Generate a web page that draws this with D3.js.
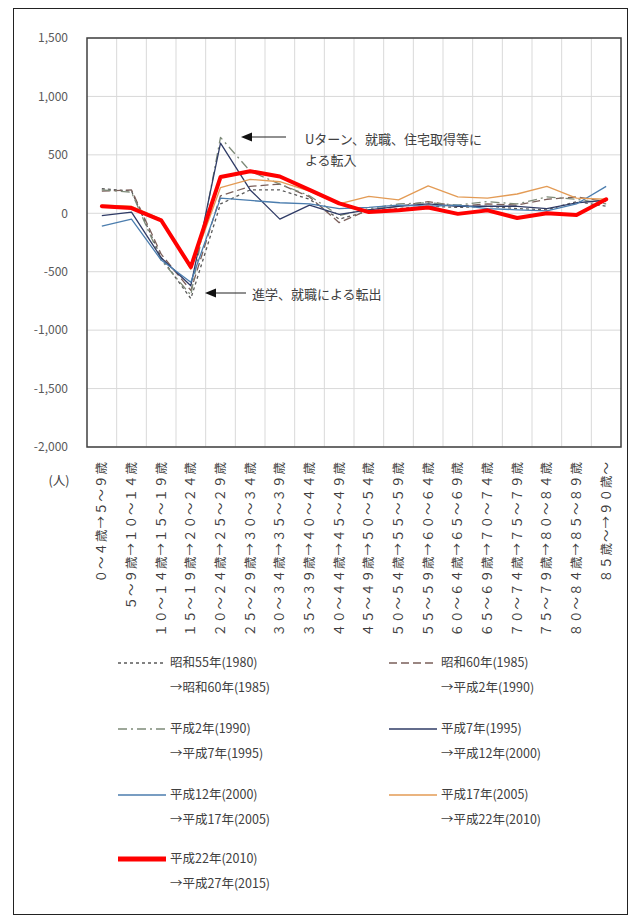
<!DOCTYPE html>
<html><head><meta charset="utf-8">
<script src="https://cdn.jsdelivr.net/npm/d3@7"></script>
<style>
html,body{margin:0;padding:0;background:#fff;}
svg{display:block;font-family:"Noto Sans CJK JP","Noto Sans",sans-serif;}
</style></head>
<body><div id="chart"></div>
<script>
const categories = [
 "０～４歳→５～９歳","５～９歳→１０～１４歳","１０～１４歳→１５～１９歳","１５～１９歳→２０～２４歳",
 "２０～２４歳→２５～２９歳","２５～２９歳→３０～３４歳","３０～３４歳→３５～３９歳","３５～３９歳→４０～４４歳",
 "４０～４４歳→４５～４９歳","４５～４９歳→５０～５４歳","５０～５４歳→５５～５９歳","５５～５９歳→６０～６４歳",
 "６０～６４歳→６５～６９歳","６５～６９歳→７０～７４歳","７０～７４歳→７５～７９歳","７５～７９歳→８０～８４歳",
 "８０～８４歳→８５～８９歳","８５歳～→９０歳～"];
const yTicks = [1500,1000,500,0,-500,-1000,-1500,-2000];
const yTickLabels = ["1,500","1,000","500","0","-500","-1,000","-1,500","-2,000"];
const s1980 = [210,190,-380,-730,80,200,200,120,-50,20,40,60,50,60,40,30,100,60];
const s1985 = [190,200,-350,-660,150,230,250,140,-80,30,60,100,60,80,70,120,140,100];
const s1990 = [200,180,-400,-700,650,360,250,150,-20,40,80,90,70,100,80,140,120,80];
const s1995 = [-20,10,-380,-620,600,200,-50,70,-10,30,60,80,60,60,60,40,90,110];
const s2000 = [-110,-50,-400,-590,130,110,90,80,40,50,70,60,70,40,30,20,80,230];
const s2005 = [70,60,-50,-480,220,290,270,190,80,145,115,235,140,130,165,230,130,120];
const s2010 = [60,45,-60,-460,310,360,315,200,85,10,25,50,-5,25,-40,0,-15,120];
const seriesNames = [
 ["昭和55年(1980)","→昭和60年(1985)"],
 ["昭和60年(1985)","→平成2年(1990)"],
 ["平成2年(1990)","→平成7年(1995)"],
 ["平成7年(1995)","→平成12年(2000)"],
 ["平成12年(2000)","→平成17年(2005)"],
 ["平成17年(2005)","→平成22年(2010)"],
 ["平成22年(2010)","→平成27年(2015)"]];
const seriesValues = [s1980,s1985,s1990,s1995,s2000,s2005,s2010];
const styles = [
 {c:"#5a5a5a",w:1.3,d:"3,3"},
 {c:"#7a5f5a",w:1.3,d:"8,4"},
 {c:"#7d8a78",w:1.3,d:"9,4,2,4"},
 {c:"#2f3b66",w:1.3,d:null},
 {c:"#4b7dae",w:1.3,d:null},
 {c:"#e39b55",w:1.3,d:null},
 {c:"#ff0000",w:4,d:null}];

const W=635,H=920;
const svg=d3.select("#chart").append("svg").attr("width",W).attr("height",H);
svg.append("rect").attr("x",13.5).attr("y",8.5).attr("width",614).attr("height",906)
  .attr("fill","#fff").attr("stroke","#222").attr("stroke-width",1);

const L=87,R=621,T=38,B=447;
const x=d3.scaleBand().domain(categories).range([L,R]);
const y=d3.scaleLinear().domain([-2000,1500]).range([B,T]);
const cx=d=>x(d)+x.bandwidth()/2;

// gridlines
svg.append("g").selectAll("line").data(yTicks).join("line")
 .attr("x1",L).attr("x2",R).attr("y1",d=>y(d)).attr("y2",d=>y(d))
 .attr("stroke","#d9d9d9").attr("stroke-width",1);
svg.append("g").selectAll("line").data(categories.slice(1)).join("line")
 .attr("x1",d=>x(d)).attr("x2",d=>x(d)).attr("y1",T).attr("y2",B)
 .attr("stroke","#d9d9d9").attr("stroke-width",1);

// y axis labels
const yAxis=d3.axisLeft(y).tickValues(yTicks).tickSize(0).tickPadding(19)
 .tickFormat((d,i)=>yTickLabels[i]);
const ga=svg.append("g").attr("transform",`translate(${L},0)`).call(yAxis);
ga.select(".domain").remove();
ga.selectAll("text").attr("fill","#595959").style("font-size","12px").style("font-family","'Noto Sans CJK JP'");

// x axis labels
const xAxis=d3.axisBottom(x).tickSize(0).tickPadding(0);
const gx=svg.append("g").attr("transform",`translate(0,${B})`).call(xAxis);
gx.select(".domain").remove();
gx.selectAll("text").attr("transform","rotate(-90)").attr("text-anchor","end")
 .attr("x",-14).attr("y",0).attr("dy","0.35em")
 .attr("fill","#404040").style("font-size","12.5px").style("letter-spacing","1px")
 .style("font-family","'Noto Sans CJK JP'");

svg.append("text").attr("x",59).attr("y",485).attr("text-anchor","middle")
 .attr("fill","#404040").style("font-size","12.5px").text("(人)");

// lines
const line=d3.line().x((d,i)=>cx(categories[i])).y(d=>y(d));
seriesValues.forEach((vals,k)=>{
  const s=styles[k];
  svg.append("path").datum(vals).attr("d",line).attr("fill","none")
   .attr("stroke",s.c).attr("stroke-width",s.w).attr("stroke-dasharray",s.d)
   .attr("stroke-linejoin","round").attr("stroke-linecap",k===6?"round":"butt");
});

// plot frame
svg.append("rect").attr("x",L).attr("y",T).attr("width",R-L).attr("height",B-T)
 .attr("fill","none").attr("stroke","#404040").attr("stroke-width",1.5);

// annotations
function arrow(x1,x2,yy){
  svg.append("line").attr("x1",x1).attr("x2",x2+8).attr("y1",yy).attr("y2",yy)
   .attr("stroke","#222").attr("stroke-width",1.2);
  svg.append("path").attr("d",`M${x2},${yy}L${x2+11},${yy-4.5}L${x2+11},${yy+4.5}Z`).attr("fill","#111");
}
arrow(286,241,137);
arrow(246,205,293);
const ann=svg.append("g").attr("fill","#404040").style("font-size","13px");
ann.append("text").attr("x",305).attr("y",144).text("Uターン、就職、住宅取得等に");
ann.append("text").attr("x",305).attr("y",165).text("よる転入");
ann.append("text").attr("x",252).attr("y",299).text("進学、就職による転出");

// legend
const legPos=[[118,663],[389,663],[118,729],[389,729],[118,795],[389,795],[118,859]];
seriesNames.forEach((nm,k)=>{
  const [lx,ly]=legPos[k], s=styles[k];
  svg.append("line").attr("x1",lx).attr("x2",lx+48).attr("y1",ly).attr("y2",ly)
   .attr("stroke",s.c).attr("stroke-width",k===6?5:1.3).attr("stroke-dasharray",s.d);
  const t=svg.append("g").attr("fill","#404040").style("font-size","12.5px");
  t.append("text").attr("x",lx+52).attr("y",ly).attr("dy","0.35em").text(nm[0]);
  t.append("text").attr("x",lx+52).attr("y",ly+25).attr("dy","0.35em").text(nm[1]);
});
</script></body></html>
